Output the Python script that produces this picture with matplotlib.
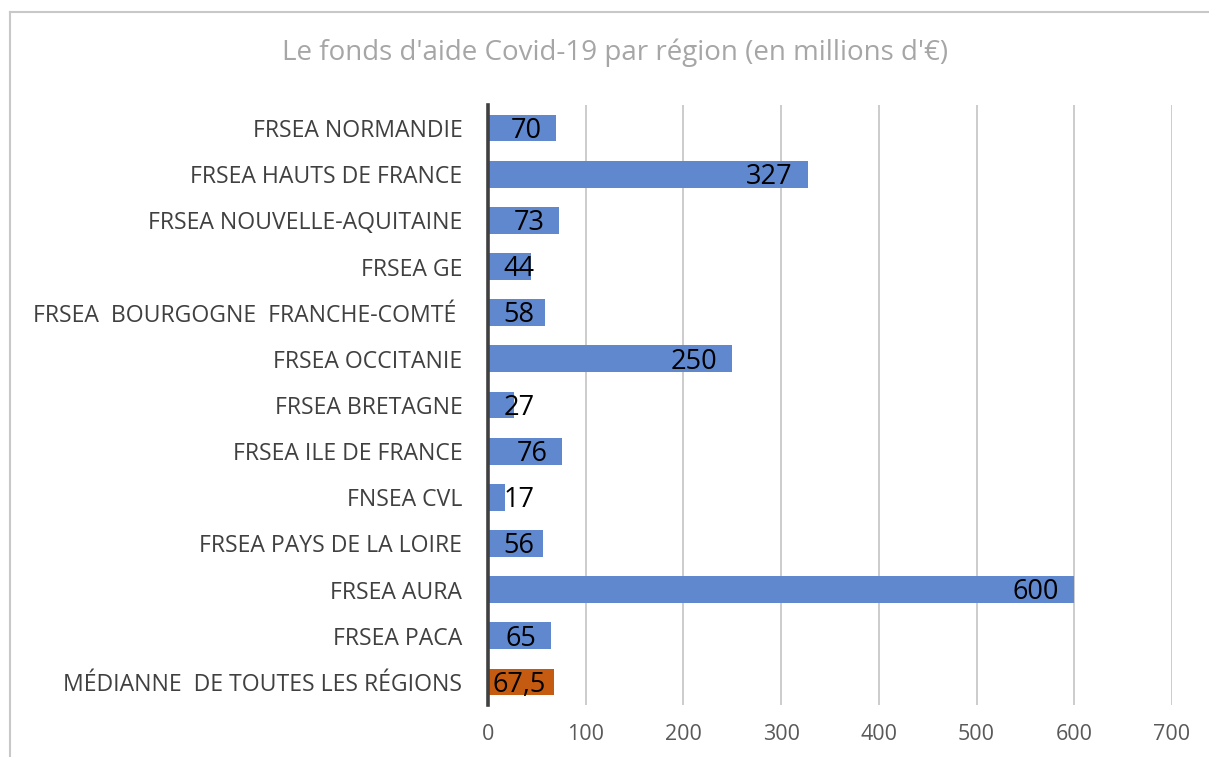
import matplotlib.pyplot as plt
from matplotlib.lines import Line2D

categories = [
    "FRSEA NORMANDIE",
    "FRSEA HAUTS DE FRANCE",
    "FRSEA NOUVELLE-AQUITAINE",
    "FRSEA GE",
    "FRSEA  BOURGOGNE  FRANCHE-COMTÉ ",
    "FRSEA OCCITANIE",
    "FRSEA BRETAGNE",
    "FRSEA ILE DE FRANCE",
    "FNSEA CVL",
    "FRSEA PAYS DE LA LOIRE",
    "FRSEA AURA",
    "FRSEA PACA",
    "MÉDIANNE  DE TOUTES LES RÉGIONS",
]
values = [70, 327, 73, 44, 58, 250, 27, 76, 17, 56, 600, 65, 67.5]
value_labels = ["70", "327", "73", "44", "58", "250", "27", "76", "17", "56", "600", "65", "67,5"]
x_ticks = [0, 100, 200, 300, 400, 500, 600, 700]

BLUE = "#5F88CF"
ORANGE = "#C55A11"
colors = [BLUE] * (len(values) - 1) + [ORANGE]

plt.rcParams["font.family"] = ["Open Sans", "DejaVu Sans"]

fig = plt.figure(figsize=(12.09, 7.57), dpi=100)
ax = fig.add_axes([0.4036, 0.0687, 0.5658, 0.7926])

ypos = list(range(len(categories)))
ax.barh(ypos, values, height=0.58, color=colors, zorder=3)

ax.set_xlim(0, 700)
ax.set_ylim(len(categories) - 0.5, -0.5)
ax.set_xticks(x_ticks)
ax.set_yticks(ypos)
ax.set_yticklabels(categories, fontsize=16.6, color="#404040")
ax.tick_params(axis="y", length=0, pad=18.5)
ax.tick_params(axis="x", length=0, pad=14, labelsize=15.5, labelcolor="#595959")
ax.grid(axis="x", color="#C8C8C8", linewidth=1.3, zorder=0)

for side in ["top", "right", "bottom"]:
    ax.spines[side].set_visible(False)
ax.spines["left"].set_color("#404040")
ax.spines["left"].set_linewidth(2.6)
ax.spines["left"].set_zorder(4)

# data labels: right-aligned a bit inside the bar end, kept off the axis for short bars
fig.canvas.draw()
renderer = fig.canvas.get_renderer()
x0_px = ax.transData.transform((0, 0))[0]
for y, v, lab in zip(ypos, values, value_labels):
    t = ax.text(0, y + 0.06, lab, fontsize=19.5, color="black", ha="center", va="center", zorder=5)
    w = t.get_window_extent(renderer).width
    end_px = ax.transData.transform((v, 0))[0]
    cx = max(end_px - 15 - w / 2, x0_px + 31)
    t.set_x(ax.transData.inverted().transform((cx, 0))[0])

fig.text(0.5087, 0.930, "Le fonds d'aide Covid-19 par région (en millions d'€)",
         ha="center", va="center", fontsize=20, color="#A6A6A6")

# chart frame (left and top edges visible)
fig.add_artist(Line2D([10 / 1209, 10 / 1209], [0, 1 - 12 / 757],
                      transform=fig.transFigure, color="#C8C8C8", linewidth=1.5))
fig.add_artist(Line2D([10 / 1209, 1], [1 - 12 / 757, 1 - 12 / 757],
                      transform=fig.transFigure, color="#C8C8C8", linewidth=1.5))

fig.savefig("out.png", dpi=100)
